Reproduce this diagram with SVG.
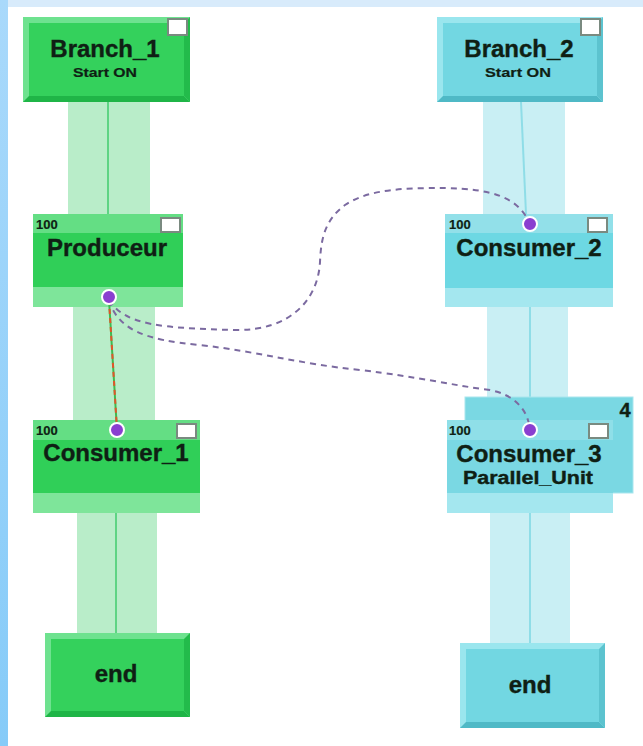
<svg xmlns="http://www.w3.org/2000/svg" width="643" height="746" viewBox="0 0 643 746">
  <defs>
    <linearGradient id="sideGrad" x1="0" y1="0" x2="0" y2="1">
      <stop offset="0" stop-color="#a9d9fb"/>
      <stop offset="1" stop-color="#86cbf8"/>
    </linearGradient>
    <style>
      .t { font-family: "Liberation Sans", Arial, sans-serif; font-weight: bold; fill: #0f1f14; stroke: #0f1f14; stroke-width: 0.4; }
      .big { font-size: 24px; }
      .num { font-size: 13px; stroke-width: 0.2; }
      .small { font-size: 12px; stroke-width: 0.2; }
      .flag { fill: #ffffff; stroke: #7a8a80; stroke-width: 2; }
      .gBand { fill: #b9edc9; }
      .gLine { stroke: #5fd484; stroke-width: 2; }
      .cBand { fill: #c9eff4; }
      .cLine { stroke: #8fdde7; stroke-width: 2; }
      .dash { fill: none; stroke: #7b6aa0; stroke-width: 2; stroke-dasharray: 6 5; }
      .dot { fill: #8a3fd0; stroke: #ffffff; stroke-width: 2; }
    </style>
  </defs>

  <!-- page -->
  <rect width="643" height="746" fill="#ffffff"/>
  <rect width="643" height="7" fill="#d8ebfb"/>
  <rect width="8" height="746" fill="url(#sideGrad)"/>

  <!-- flow bands between steps -->
  <g id="bands">
    <rect class="gBand" x="68" y="102" width="82" height="112"/>
    <line class="gLine" x1="108" y1="102" x2="108" y2="214"/>
    <rect class="gBand" x="73" y="307" width="82" height="113"/>
    <rect class="gBand" x="77" y="513" width="80" height="120"/>
    <line class="gLine" x1="116" y1="513" x2="116" y2="633"/>

    <rect class="cBand" x="483" y="102" width="82" height="112"/>
    <line class="cLine" x1="521" y1="102" x2="526" y2="214"/>
    <rect class="cBand" x="487" y="307" width="81" height="90"/>
    <line class="cLine" x1="530" y1="307" x2="530" y2="397"/>
    <rect class="cBand" x="490" y="513" width="80" height="130"/>
    <line class="cLine" x1="530" y1="513" x2="530" y2="643"/>
  </g>

  <!-- Branch_1 -->
  <g id="branch1">
    <rect x="23" y="17" width="167" height="85" fill="#6ee28f"/>
    <polygon points="23,102 190,102 184,96 29,96" fill="#1fb547"/>
    <polygon points="190,17 190,102 184,96 184,23" fill="#23bb4b"/>
    <rect x="29" y="23" width="155" height="73" fill="#34d15c"/>
    <rect class="flag" x="168" y="19" width="19" height="16"/>
    <text class="t big" x="105" y="57" text-anchor="middle">Branch_1</text>
    <text class="t small" x="105" y="77" text-anchor="middle" textLength="64" lengthAdjust="spacingAndGlyphs">Start ON</text>
  </g>

  <!-- Branch_2 -->
  <g id="branch2">
    <rect x="437" y="17" width="166" height="85" fill="#9ae6ee"/>
    <polygon points="437,102 603,102 597,96 443,96" fill="#4fb9c6"/>
    <polygon points="603,17 603,102 597,96 597,23" fill="#5cc3cf"/>
    <rect x="443" y="23" width="154" height="73" fill="#72d7e2"/>
    <rect class="flag" x="581" y="19" width="19" height="16"/>
    <text class="t big" x="519" y="57" text-anchor="middle">Branch_2</text>
    <text class="t small" x="518" y="77" text-anchor="middle" textLength="66" lengthAdjust="spacingAndGlyphs">Start ON</text>
  </g>

  <!-- Produceur -->
  <g id="produceur">
    <rect x="33" y="214" width="150" height="19" fill="#64de84"/>
    <rect x="33" y="233" width="150" height="54" fill="#30cf58"/>
    <rect x="33" y="287" width="150" height="20" fill="#7ee59a"/>
    <rect class="flag" x="161" y="218" width="19" height="14"/>
    <text class="t num" x="36" y="229">100</text>
    <text class="t big" x="107" y="256" text-anchor="middle">Produceur</text>
  </g>

  <!-- Consumer_1 -->
  <g id="consumer1">
    <rect x="33" y="420" width="167" height="20" fill="#64de84"/>
    <rect x="33" y="440" width="167" height="53" fill="#30cf58"/>
    <rect x="33" y="493" width="167" height="20" fill="#7ee59a"/>
    <rect class="flag" x="177" y="424" width="19" height="14"/>
    <text class="t num" x="36" y="435">100</text>
    <text class="t big" x="116" y="461" text-anchor="middle">Consumer_1</text>
  </g>

  <!-- Consumer_2 -->
  <g id="consumer2">
    <rect x="445" y="214" width="168" height="19" fill="#92e0e9"/>
    <rect x="445" y="233" width="168" height="55" fill="#6dd8e3"/>
    <rect x="445" y="288" width="168" height="19" fill="#a4e7ef"/>
    <rect class="flag" x="588" y="218" width="19" height="14"/>
    <text class="t num" x="449" y="229">100</text>
    <text class="t big" x="529" y="256" text-anchor="middle">Consumer_2</text>
  </g>

  <!-- Consumer_3 (parallel unit, 4 instances) -->
  <g id="consumer3">
    <rect x="465" y="397" width="168" height="96" fill="#7ad8e3" stroke="#a9e6ee" stroke-width="1"/>
    <text class="t" x="625" y="417" font-size="20" text-anchor="middle">4</text>
    <rect x="447" y="420" width="166" height="20" fill="#8fdfe8"/>
    <rect x="447" y="440" width="166" height="53" fill="#7ad8e3"/>
    <rect x="447" y="493" width="166" height="20" fill="#a4e7ef"/>
    <rect class="flag" x="589" y="424" width="19" height="14"/>
    <text class="t num" x="449" y="435">100</text>
    <text class="t big" x="529" y="462" text-anchor="middle">Consumer_3</text>
    <text class="t" x="528" y="484" font-size="18" text-anchor="middle" textLength="130" lengthAdjust="spacingAndGlyphs">Parallel_Unit</text>
  </g>

  <!-- end (left) -->
  <g id="end1">
    <rect x="45" y="633" width="145" height="84" fill="#6ee28f"/>
    <polygon points="45,717 190,717 184,711 51,711" fill="#1fb547"/>
    <polygon points="190,633 190,717 184,711 184,639" fill="#23bb4b"/>
    <rect x="51" y="639" width="133" height="72" fill="#34d15c"/>
    <text class="t big" x="116" y="682" text-anchor="middle">end</text>
  </g>

  <!-- end (right) -->
  <g id="end2">
    <rect x="460" y="643" width="145" height="85" fill="#9ae6ee"/>
    <polygon points="460,728 605,728 599,722 466,722" fill="#4fb9c6"/>
    <polygon points="605,643 605,728 599,722 599,649" fill="#5cc3cf"/>
    <rect x="466" y="649" width="133" height="73" fill="#72d7e2"/>
    <text class="t big" x="530" y="693" text-anchor="middle">end</text>
  </g>

  <!-- data links -->
  <g id="connectors">
    <line x1="109" y1="300" x2="117" y2="430" stroke="#3fb94f" stroke-width="2"/>
    <line x1="109" y1="300" x2="117" y2="430" stroke="#e0552a" stroke-width="2" stroke-dasharray="5 4"/>
    <path class="dash" d="M109,300 C125,325 160,328 235,330 C290,331 318,300 320,262 C321,238 325,220 345,205 C370,188 410,188 445,188 C490,189 518,196 530,224"/>
    <path class="dash" d="M109,300 C118,330 145,340 200,345 C260,352 300,364 360,370 C420,377 450,385 490,390 C515,395 528,410 530,430"/>
    <circle class="dot" cx="109" cy="297" r="7"/>
    <circle class="dot" cx="117" cy="430" r="7"/>
    <circle class="dot" cx="530" cy="224" r="7"/>
    <circle class="dot" cx="530" cy="430" r="7"/>
  </g>
</svg>
